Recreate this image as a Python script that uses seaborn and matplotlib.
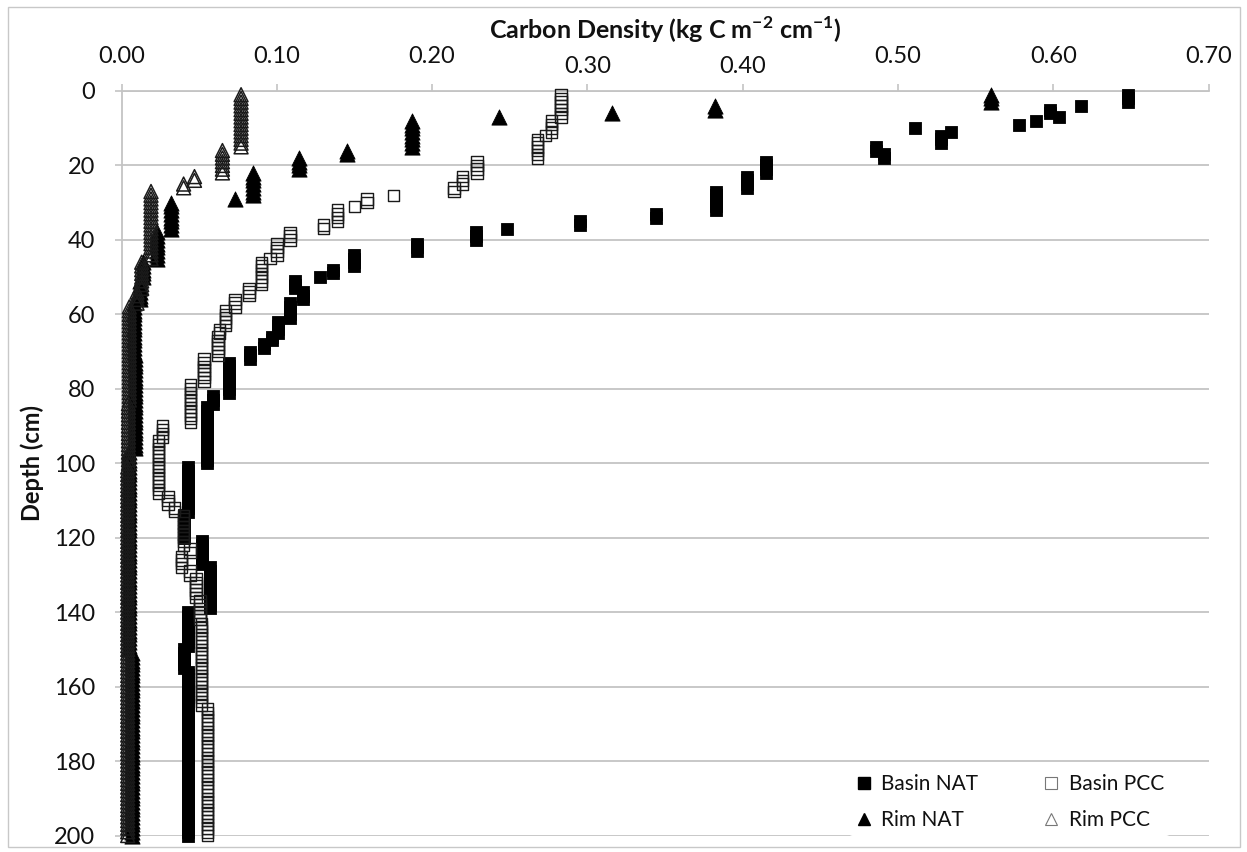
import numpy as np
import pandas as pd
import matplotlib
matplotlib.use("Agg")
import matplotlib.pyplot as plt
import seaborn as sns
from matplotlib.lines import Line2D
from matplotlib.patches import Rectangle
from matplotlib.transforms import ScaledTranslation

# ---------------- data: sampled layers (top cm, bottom cm, density) ----------------
basin_nat_top = [1, 4, 5, 7, 8, 9, 10, 11, 12, 15, 17, 19, 23, 27, 33, 35, 37, 38, 41, 44, 48, 50, 51, 54,
                 57, 62, 66, 68, 70, 73, 82, 85, 101, 114, 121, 128, 140, 150, 156]
basin_nat_bot = [3, 4, 6, 7, 8, 9, 10, 11, 14, 16, 18, 22, 26, 32, 34, 36, 37, 40, 43, 47, 49, 50, 53, 56,
                 61, 65, 67, 69, 72, 81, 84, 100, 113, 120, 127, 139, 149, 155, 200]
basin_nat_val = [0.648, 0.618, 0.598, 0.604, 0.589, 0.578, 0.511, 0.534, 0.528, 0.486, 0.491, 0.415, 0.403,
                 0.383, 0.344, 0.295, 0.248, 0.228, 0.190, 0.150, 0.136, 0.128, 0.112, 0.117, 0.1085, 0.101,
                 0.097, 0.092, 0.083, 0.069, 0.059, 0.055, 0.043, 0.040, 0.052, 0.057, 0.043, 0.040, 0.043]

basin_pcc_top = [1, 8, 12, 13, 19, 23, 26, 28, 29, 31, 32, 36, 38, 41, 45, 46, 53, 56, 59, 64, 66, 72, 79,
                 90, 94, 109, 112, 114, 123, 125, 129, 131, 137, 143, 166]
basin_pcc_bot = [7, 11, 12, 18, 22, 25, 27, 28, 30, 31, 35, 37, 40, 44, 45, 52, 55, 58, 63, 65, 71, 78, 89,
                 93, 108, 111, 113, 122, 124, 128, 130, 136, 142, 165, 200]
basin_pcc_val = [0.283, 0.277, 0.273, 0.268, 0.229, 0.2195, 0.214, 0.175, 0.158, 0.150, 0.139, 0.130, 0.1085,
                 0.100, 0.0956, 0.090, 0.082, 0.073, 0.067, 0.063, 0.062, 0.053, 0.0445, 0.0265, 0.0237,
                 0.030, 0.034, 0.040, 0.044, 0.0388, 0.044, 0.048, 0.0505, 0.0516, 0.0553]

rim_nat_top = [1, 4, 6, 7, 8, 16, 18, 22, 29, 30, 38, 46, 51, 57, 71, 97, 151]
rim_nat_bot = [3, 5, 6, 7, 15, 17, 21, 28, 29, 37, 45, 50, 56, 70, 96, 150, 200]
rim_nat_val = [0.560, 0.382, 0.316, 0.243, 0.187, 0.145, 0.114, 0.0845, 0.073, 0.032, 0.0227, 0.014, 0.012,
               0.008, 0.0085, 0.005, 0.0065]

rim_pcc_top = [1, 16, 23, 25, 27, 46, 54, 58, 84, 101]
rim_pcc_bot = [15, 22, 24, 26, 45, 53, 57, 83, 100, 200]
rim_pcc_val = [0.077, 0.065, 0.047, 0.040, 0.019, 0.013, 0.010, 0.005, 0.0045, 0.004]

series_names = ["Basin NAT", "Basin PCC", "Rim NAT", "Rim PCC"]
x_ticks = [0.0, 0.1, 0.2, 0.3, 0.4, 0.5, 0.6, 0.7]
x_tick_labels = ["0.00", "0.10", "0.20", "0.30", "0.40", "0.50", "0.60", "0.70"]
y_ticks = [0, 20, 40, 60, 80, 100, 120, 140, 160, 180, 200]


def layers_to_frame(name, tops, bots, vals):
    rows = []
    for t, b, v in zip(tops, bots, vals):
        for d in range(t, b + 1):
            rows.append({"series": name, "depth": d, "density": v})
    return pd.DataFrame(rows)


frames = {
    "Basin NAT": layers_to_frame("Basin NAT", basin_nat_top, basin_nat_bot, basin_nat_val),
    "Basin PCC": layers_to_frame("Basin PCC", basin_pcc_top, basin_pcc_bot, basin_pcc_val),
    "Rim NAT": layers_to_frame("Rim NAT", rim_nat_top, rim_nat_bot, rim_nat_val),
    "Rim PCC": layers_to_frame("Rim PCC", rim_pcc_top, rim_pcc_bot, rim_pcc_val),
}

# ---------------- style ----------------
sns.set_style("white")
plt.rcParams["font.family"] = ["Lato", "DejaVu Sans"]
plt.rcParams["mathtext.fontset"] = "custom"
plt.rcParams["mathtext.rm"] = "Lato"
plt.rcParams["mathtext.bf"] = "Lato:bold"

W, H = 1247, 852
fig = plt.figure(figsize=(W / 100, H / 100), dpi=100)
left, right, top, bottom = 121.5, 1208.5, 91, 835.5
ax = fig.add_axes([left / W, 1 - bottom / H, (right - left) / W, (bottom - top) / H])

grid_col = "#c4c4c4"

styles = {
    "Basin NAT": dict(marker="s", s=82, color="black", edgecolor="black", linewidth=0.6),
    "Basin PCC": dict(marker="s", s=68, color="none", edgecolor="#1a1a1a", linewidth=1.0),
    "Rim NAT": dict(marker="^", s=120, color="black", edgecolor="black", linewidth=0.6),
    "Rim PCC": dict(marker="^", s=100, color="none", edgecolor="#1a1a1a", linewidth=1.1),
}
for name in series_names:
    sns.scatterplot(data=frames[name], x="density", y="depth", ax=ax, legend=False,
                    zorder=3, clip_on=False, **styles[name])

ax.set_xlim(0, 0.7)
ax.set_ylim(200, 0)
ax.set_xticks(x_ticks)
ax.set_xticklabels(x_tick_labels)
ax.set_yticks(y_ticks)
ax.xaxis.tick_top()
ax.xaxis.set_label_position("top")

ax.yaxis.grid(True, color=grid_col, linewidth=1.3, zorder=0)
ax.xaxis.grid(False)
for side in ["right", "bottom"]:
    ax.spines[side].set_visible(False)
for side in ["left", "top"]:
    ax.spines[side].set_color(grid_col)
    ax.spines[side].set_linewidth(1.3)

ax.tick_params(axis="x", which="major", top=True, bottom=False, labeltop=True, labelbottom=False,
               direction="out", length=5, width=1.2, color=grid_col, pad=12, labelsize=17,
               labelcolor="#111111")
ax.tick_params(axis="y", which="major", left=True, direction="out", length=5, width=1.2,
               color=grid_col, pad=14, labelsize=17, labelcolor="#111111")

# the two labels under the axis title sit a little lower in the reference
shift = ScaledTranslation(0, -7 / 72, fig.dpi_scale_trans)
for i in (3, 4):
    lab = ax.xaxis.get_major_ticks()[i].label2
    lab.set_transform(lab.get_transform() + shift)

ax.set_xlabel(r"Carbon Density (kg C m$^{\mathbf{-2}}$ cm$^{\mathbf{-1}}$)", fontsize=18,
              fontweight="bold", color="#111111")
ax.xaxis.set_label_coords(0.5, 1 + (top - 30) / (bottom - top))
ax.xaxis.label.set_va("center")
ax.set_ylabel("Depth (cm)", fontsize=17, fontweight="bold", color="#111111")
ax.yaxis.set_label_coords(-(left - 32) / (right - left), 0.5)
ax.yaxis.label.set_va("center")

handles = [
    Line2D([], [], linestyle="none", marker="s", markersize=8, markerfacecolor="black",
           markeredgecolor="black"),
    Line2D([], [], linestyle="none", marker="^", markersize=9, markerfacecolor="black",
           markeredgecolor="black"),
    Line2D([], [], linestyle="none", marker="s", markersize=8, markerfacecolor="white",
           markeredgecolor="#777777", markeredgewidth=0.8),
    Line2D([], [], linestyle="none", marker="^", markersize=9, markerfacecolor="white",
           markeredgecolor="#777777", markeredgewidth=0.8),
]
labels = ["Basin NAT", "Rim NAT", "Basin PCC", "Rim PCC"]
leg = fig.legend(handles, labels, loc="upper left", bbox_to_anchor=(849 / W, 1 - 768 / H),
                 ncol=2, fontsize=15, frameon=True, facecolor="white", edgecolor="none",
                 framealpha=1, handlelength=0.8, handletextpad=0.45, columnspacing=3.1,
                 labelspacing=0.75, borderpad=0.3, borderaxespad=0)
for t in leg.get_texts():
    t.set_color("#111111")

fig.add_artist(Rectangle((8 / W, 5 / H), (1240 - 8) / W, (847 - 7) / H, transform=fig.transFigure,
                         fill=False, edgecolor="#c8c8c8", linewidth=1.0))

fig.savefig("out.png", dpi=100, facecolor="white")
